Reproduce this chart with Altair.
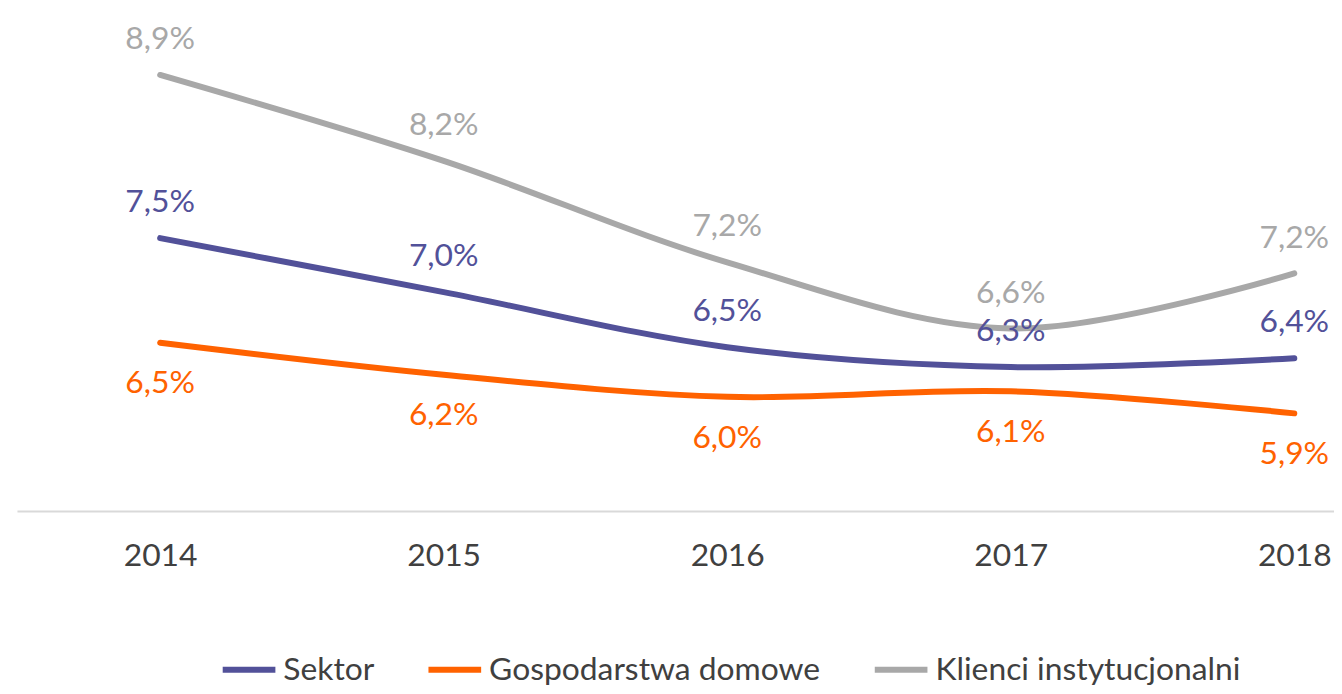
import altair as alt
import pandas as pd

years = [2014, 2015, 2016, 2017, 2018]
series = ["Sektor", "Gospodarstwa domowe", "Klienci instytucjonalni"]
sektor = [7.47, 6.98, 6.48, 6.30, 6.38]
gosp = [6.52, 6.23, 6.03, 6.08, 5.88]
klienci = [8.95, 8.17, 7.25, 6.65, 7.15]
sektor_lbl = ["7,5%", "7,0%", "6,5%", "6,3%", "6,4%"]
gosp_lbl = ["6,5%", "6,2%", "6,0%", "6,1%", "5,9%"]
klienci_lbl = ["8,9%", "8,2%", "7,2%", "6,6%", "7,2%"]
colors = ["#525199", "#FF6200", "#A8A8A8"]

rows = []
for name, vals, lbls, pos in [
    (series[0], sektor, sektor_lbl, "above"),
    (series[1], gosp, gosp_lbl, "below"),
    (series[2], klienci, klienci_lbl, "above"),
]:
    for yr, v, l in zip(years, vals, lbls):
        rows.append({"year": yr, "value": v, "series": name, "label": l, "pos": pos})
df = pd.DataFrame(rows)

FONT = "Lato"
W, H = 1325, 504
x_min = 2013.495
x_max = x_min + W / 285.25

x = alt.X(
    "year:Q",
    scale=alt.Scale(domain=[x_min, x_max], nice=False, zero=False),
    axis=alt.Axis(
        values=years, format="d", title=None, grid=False, ticks=False, tickSize=0,
        labelFontSize=32, labelFont=FONT, labelColor="#404040", labelPadding=55,
        labelBaseline="alphabetic", labelFlush=False, domainColor="#d9d9d9",
        domainWidth=2,
    ),
)
y = alt.Y("value:Q", scale=alt.Scale(domain=[4.994, 9.539], nice=False, zero=False), axis=None)
color_scale = alt.Scale(domain=series, range=colors)

base = alt.Chart(df)

lines = base.mark_line(interpolate="cardinal", strokeWidth=6, strokeCap="round").encode(
    x=x, y=y,
    color=alt.Color(
        "series:N", scale=color_scale, sort=series,
        legend=alt.Legend(
            orient="none", legendX=204, legendY=634, direction="horizontal", title=None,
            symbolType="stroke", symbolSize=2809, symbolStrokeWidth=6,
            labelFontSize=32, labelFont=FONT, labelColor="#404040", labelOffset=5,
            columnPadding=42, padding=0, labelLimit=600,
        ),
    ),
    detail="series:N",
)

above = base.transform_filter(alt.datum.pos == "above").mark_text(
    fontSize=32, font=FONT, baseline="alphabetic", align="center", dy=-26
).encode(x=x, y=y, text="label:N", color=alt.Color("series:N", scale=color_scale, legend=None))

below = base.transform_filter(alt.datum.pos == "below").mark_text(
    fontSize=32, font=FONT, baseline="alphabetic", align="center", dy=51
).encode(x=x, y=y, text="label:N", color=alt.Color("series:N", scale=color_scale, legend=None))

chart = alt.layer(lines, above, below).properties(
    width=W, height=H,
    autosize=alt.AutoSizeParams(type="none"),
    padding={"left": 9, "top": 0, "right": 0, "bottom": 174},
).configure_view(stroke=None)

chart.save("out.html", embed_options={"renderer": "svg", "actions": False})
